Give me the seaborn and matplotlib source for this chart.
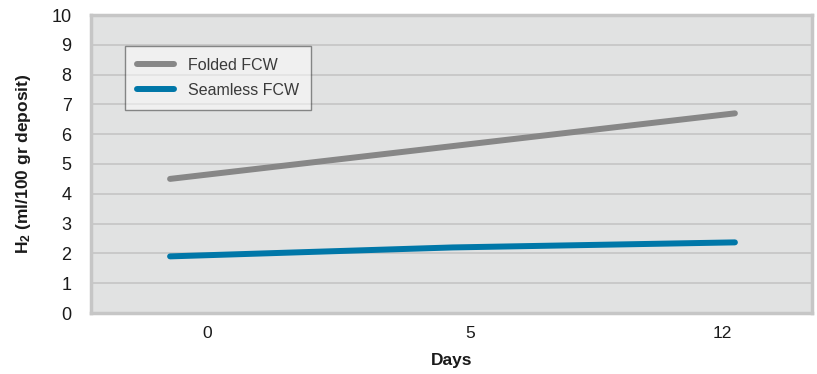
import matplotlib
matplotlib.use("Agg")
import matplotlib.pyplot as plt
import numpy as np
import pandas as pd
import seaborn as sns

# data
days = ["0", "5", "12"]
folded = [4.5, 5.6, 6.7]
seamless = [1.9, 2.2, 2.37]
series_names = ["Folded FCW", "Seamless FCW"]
colors = ["#878787", "#0077a8"]

pos = np.arange(len(days))
df = pd.DataFrame({
    "pos": np.concatenate([pos, pos]),
    "value": folded + seamless,
    "series": [series_names[0]] * len(days) + [series_names[1]] * len(days),
})

sns.set_theme(style="darkgrid")
plt.rcParams["font.family"] = ["Liberation Sans", "DejaVu Sans"]
plt.rcParams["mathtext.default"] = "regular"

fig = plt.figure(figsize=(8.17, 3.74), dpi=100)
ax = fig.add_axes([91 / 817, 61 / 374, 721 / 817, 298 / 374])
ax.set_facecolor("#e1e2e2")

sns.lineplot(data=df, x="pos", y="value", hue="series",
             palette=dict(zip(series_names, colors)),
             linewidth=4.3, solid_capstyle="round", ax=ax)

ax.set_ylim(0, 10)
ax.set_xlim(-0.28, 2.273)
ax.set_yticks(range(0, 11))
ax.set_xticks([0.131, 1.062, 1.954])
ax.set_xticklabels(days)
ax.grid(axis="y", color="#c9c9c9", linewidth=1.4)
ax.grid(axis="x", visible=False)
ax.tick_params(axis="y", length=0, pad=14, labelsize=13, labelcolor="#1a1a1a")
ax.tick_params(axis="x", length=0, pad=9, labelsize=12.5, labelcolor="#1a1a1a")
for s in ax.spines.values():
    s.set_visible(True)
    s.set_color("#c6c6c6")
    s.set_linewidth(2.5)

ax.set_xlabel("Days", fontsize=12.5, fontweight="bold", color="#1a1a1a", labelpad=9)
ax.set_ylabel("H$_2$ (ml/100 gr deposit)", fontsize=12.5, fontweight="bold",
              color="#1a1a1a", labelpad=13)

leg = ax.legend(loc="upper left", bbox_to_anchor=(0.047, 0.896), borderaxespad=0,
                frameon=True, fancybox=False, framealpha=0.5, facecolor="white",
                edgecolor="#222222", fontsize=11.5, handlelength=2.3,
                borderpad=0.75, labelspacing=0.6, handletextpad=0.9)
leg.get_frame().set_linewidth(1.0)
for t in leg.get_texts():
    t.set_color("#3a3a3a")

fig.savefig("out.png", dpi=100)
